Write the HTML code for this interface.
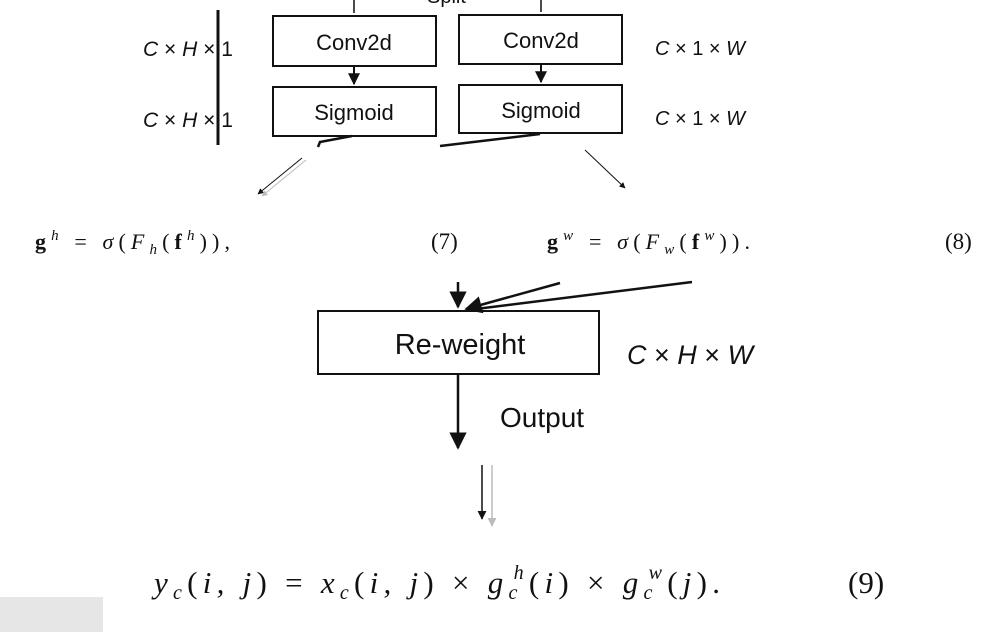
<!DOCTYPE html>
<html><head><meta charset="utf-8"><style>
html,body{margin:0;padding:0;background:#fff;width:991px;height:639px;overflow:hidden}
svg{display:block}
.s{font-family:"Liberation Sans",sans-serif;fill:#111}
.m{font-family:"Liberation Serif",serif;fill:#111}
</style></head><body>
<svg width="991" height="639" viewBox="0 0 991 639" xmlns="http://www.w3.org/2000/svg">
<defs>
<marker id="a" viewBox="0 0 10 10" refX="9" refY="5" markerWidth="6" markerHeight="6" orient="auto"><path d="M0,0L10,5L0,10z" fill="#111"/></marker>
<marker id="b" viewBox="0 0 10 10" refX="9" refY="5" markerWidth="7" markerHeight="7" orient="auto"><path d="M0,0L10,5L0,10z" fill="#111"/></marker>
<marker id="g" viewBox="0 0 10 10" refX="9" refY="5" markerWidth="6" markerHeight="6" orient="auto"><path d="M0,0L10,5L0,10z" fill="#bbb"/></marker>
</defs>
<g stroke="#111" fill="none" stroke-width="2">
<rect x="273" y="16" width="163" height="50"/>
<rect x="459" y="15" width="163" height="49"/>
<rect x="273" y="87" width="163" height="49"/>
<rect x="459" y="85" width="163" height="48"/>
<line x1="218" y1="10" x2="218" y2="145" stroke-width="3"/>
<line x1="354" y1="0" x2="354" y2="13" stroke-width="1.5"/>
<line x1="541" y1="0" x2="541" y2="12" stroke-width="1.5"/>
<line x1="354" y1="66" x2="354" y2="84" marker-end="url(#a)"/>
<line x1="541" y1="64" x2="541" y2="82" marker-end="url(#a)"/>
<path d="M352,136 L320,142 L318,147" stroke-width="2.5"/>
<path d="M540,134 L440,146" stroke-width="2.5"/>
<line x1="302" y1="158" x2="258" y2="194" stroke-width="1" marker-end="url(#a)"/>
<line x1="306" y1="160" x2="262" y2="196" stroke="#bbb" stroke-width="1" marker-end="url(#g)"/>
<line x1="585" y1="150" x2="625" y2="188" stroke-width="1" marker-end="url(#a)"/>
<rect x="318" y="311" width="281" height="63"/>
<line x1="458" y1="282" x2="458" y2="307" stroke-width="2.5" marker-end="url(#b)"/>
<line x1="560" y1="283" x2="466" y2="309" stroke-width="2.5" marker-end="url(#b)"/>
<line x1="692" y1="282" x2="468" y2="310" stroke-width="2.5"/>
<line x1="458" y1="375" x2="458" y2="448" stroke-width="2.5" marker-end="url(#b)"/>
<line x1="482" y1="465" x2="482" y2="519" stroke-width="1.5" marker-end="url(#a)"/>
<line x1="492" y1="465" x2="492" y2="526" stroke="#bbb" stroke-width="1.5" marker-end="url(#g)"/>
</g>
<text class="s" x="427" y="3" font-size="20" fill="#555">Split</text>
<text class="s" x="354" y="50" font-size="22" text-anchor="middle">Conv2d</text>
<text class="s" x="541" y="48" font-size="22" text-anchor="middle">Conv2d</text>
<text class="s" x="354" y="120" font-size="22" text-anchor="middle">Sigmoid</text>
<text class="s" x="541" y="118" font-size="22" text-anchor="middle">Sigmoid</text>
<text class="s" x="143" y="56" font-size="21"><tspan font-style="italic">C</tspan> × <tspan font-style="italic">H</tspan> × 1</text>
<text class="s" x="143" y="127" font-size="21"><tspan font-style="italic">C</tspan> × <tspan font-style="italic">H</tspan> × 1</text>
<text class="s" x="655" y="55" font-size="20"><tspan font-style="italic">C</tspan> × 1 × <tspan font-style="italic">W</tspan></text>
<text class="s" x="655" y="125" font-size="20"><tspan font-style="italic">C</tspan> × 1 × <tspan font-style="italic">W</tspan></text>
<text class="m" x="35" y="249" font-size="22" textLength="195" lengthAdjust="spacing"><tspan font-weight="bold">g</tspan><tspan font-style="italic" font-size="15" dy="-9">h</tspan><tspan dy="9"> = </tspan><tspan font-style="italic">σ</tspan>(<tspan font-style="italic">F</tspan><tspan font-style="italic" font-size="15" dy="5">h</tspan><tspan dy="-5">(</tspan><tspan font-weight="bold">f</tspan><tspan font-style="italic" font-size="15" dy="-9">h</tspan><tspan dy="9">)),</tspan></text>
<text class="m" x="431" y="249" font-size="23">(7)</text>
<text class="m" x="547" y="249" font-size="22" textLength="203" lengthAdjust="spacing"><tspan font-weight="bold">g</tspan><tspan font-style="italic" font-size="15" dy="-9">w</tspan><tspan dy="9"> = </tspan><tspan font-style="italic">σ</tspan>(<tspan font-style="italic">F</tspan><tspan font-style="italic" font-size="15" dy="5">w</tspan><tspan dy="-5">(</tspan><tspan font-weight="bold">f</tspan><tspan font-style="italic" font-size="15" dy="-9">w</tspan><tspan dy="9">)).</tspan></text>
<text class="m" x="945" y="249" font-size="23">(8)</text>
<text class="s" x="460" y="354" font-size="29" text-anchor="middle">Re-weight</text>
<text class="s" x="627" y="364" font-size="27"><tspan font-style="italic">C</tspan> × <tspan font-style="italic">H</tspan> × <tspan font-style="italic">W</tspan></text>
<text class="s" x="500" y="427" font-size="28">Output</text>
<text class="m" x="154" y="593" font-size="31" textLength="566" lengthAdjust="spacing"><tspan font-style="italic">y</tspan><tspan font-style="italic" font-size="20" dy="6">c</tspan><tspan dy="-6">(</tspan><tspan font-style="italic">i, j</tspan>) = <tspan font-style="italic">x</tspan><tspan font-style="italic" font-size="20" dy="6">c</tspan><tspan dy="-6">(</tspan><tspan font-style="italic">i, j</tspan>) × <tspan font-style="italic">g</tspan><tspan font-style="italic" font-size="20" dy="6">c</tspan><tspan font-style="italic" font-size="20" dx="-9" dy="-20">h</tspan><tspan dy="14">(</tspan><tspan font-style="italic">i</tspan>) × <tspan font-style="italic">g</tspan><tspan font-style="italic" font-size="20" dy="6">c</tspan><tspan font-style="italic" font-size="20" dx="-9" dy="-20">w</tspan><tspan dy="14">(</tspan><tspan font-style="italic">j</tspan>).</text>
<text class="m" x="848" y="593" font-size="31">(9)</text>
<rect x="0" y="597" width="103" height="35" fill="#e6e6e6"/>
</svg>
</body></html>
